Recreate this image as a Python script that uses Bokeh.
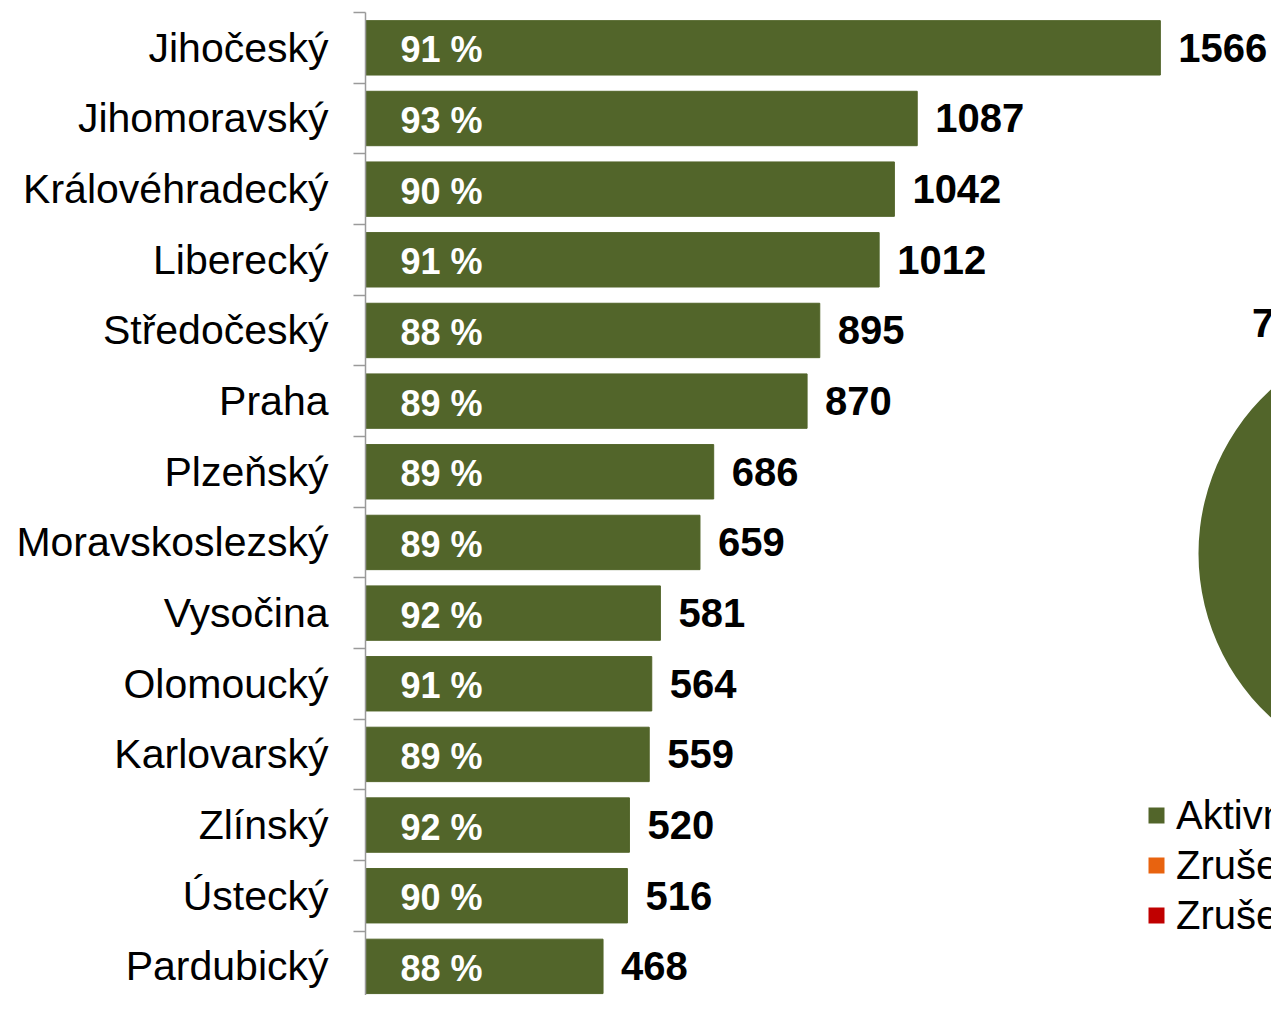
import math
from bokeh.plotting import figure
from bokeh.models import Range1d, FixedTicker, ColumnDataSource, Legend, LegendItem
from bokeh.core.properties import value
from bokeh.embed import file_html
from bokeh.resources import INLINE

# ---------------- data ----------------
regions = ["Jihočeský", "Jihomoravský", "Královéhradecký", "Liberecký", "Středočeský",
           "Praha", "Plzeňský", "Moravskoslezský", "Vysočina", "Olomoucký",
           "Karlovarský", "Zlínský", "Ústecký", "Pardubický"]
counts = [1566, 1087, 1042, 1012, 895, 870, 686, 659, 581, 564, 559, 520, 516, 468]
shares = [91, 93, 90, 91, 88, 89, 89, 89, 92, 91, 89, 92, 90, 88]

pie_labels = ["Aktivní", "Zrušené na žádost", "Zrušené z moci úřední"]
pie_values = [90, 7, 3]
pie_colors = ["#52652A", "#E8630F", "#C00000"]

# ---------------- layout ----------------
W, H = 1271, 995
LEFT, TOP = 365, 12
X_END = 1785
Y_TOP, Y_BOT = 13.5, -0.412
frame_w = W - LEFT
frame_h = H - TOP
px_x = frame_w / X_END
px_y = frame_h / (Y_TOP - Y_BOT)

GREEN = "#52652A"
AXIS = "#9A9A9A"
FONT = "Liberation Sans"

n = len(regions)
ys = [n - 1 - i for i in range(n)]

bar_src = ColumnDataSource(dict(
    y=ys, count=counts,
    count_txt=[str(c) for c in counts],
    share_txt=[f"{s} %" for s in shares],
))

p = figure(width=W, height=H, x_range=Range1d(0, X_END), y_range=Range1d(Y_BOT, Y_TOP),
           output_backend="svg", toolbar_location=None, x_axis_location=None,
           min_border_left=LEFT, min_border_right=0, min_border_top=TOP, min_border_bottom=0)
p.outline_line_color = None
p.xgrid.visible = False
p.ygrid.visible = False
p.background_fill_color = "white"
p.border_fill_color = "white"

p.hbar(y="y", right="count", left=0, height=0.77, color=GREEN, source=bar_src)

p.text(x=0, y="y", text="share_txt", source=bar_src, x_offset=35, y_offset=2,
       text_color="white", text_font=value(FONT), text_font_style="bold",
       text_font_size="36px", text_align="left", text_baseline="middle")
p.text(x="count", y="y", text="count_txt", source=bar_src, x_offset=18, y_offset=0,
       text_color="black", text_font=value(FONT), text_font_style="bold",
       text_font_size="40px", text_align="left", text_baseline="middle")

ax = p.yaxis[0]
ax.ticker = FixedTicker(ticks=ys, minor_ticks=[y + 0.5 for y in range(-1, n)])
ax.major_label_overrides = {y: r for y, r in zip(ys, regions)}
ax.major_tick_line_color = None
ax.major_tick_in = 0
ax.major_tick_out = 0
ax.minor_tick_in = 0
ax.minor_tick_out = 12
ax.minor_tick_line_color = AXIS
ax.minor_tick_line_width = 1.5
ax.axis_line_color = AXIS
ax.axis_line_width = 1.5
ax.major_label_standoff = 25
ax.major_label_text_font = FONT
ax.major_label_text_font_size = "41px"
ax.major_label_text_color = "black"

# ---------------- pie ----------------
R = 222
pie_cx = 1055 / px_x
pie_cy = Y_TOP - 541 / px_y
total = sum(pie_values)
order = [2, 1, 0]
starts, ends, cols, txt, xo, yo, al, tc = [], [], [], [], [], [], [], []
a = math.pi / 2
for i in order:
    b = a + pie_values[i] / total * 2 * math.pi
    starts.append(a)
    ends.append(b)
    cols.append(pie_colors[i])
    m = (a + b) / 2
    if i == 0:
        rr = 0.6 * R
        al.append("center")
        tc.append("white")
    else:
        rr = 1.13 * R
        al.append("right" if math.cos(m) < 0 else "left")
        tc.append("black")
    xo.append(rr * math.cos(m))
    yo.append(-rr * math.sin(m))
    txt.append(f"{pie_values[i]} %")
    a = b

pie_src = ColumnDataSource(dict(x=[pie_cx] * 3, y=[pie_cy] * 3, start=starts, end=ends,
                                color=cols, txt=txt, xo=xo, yo=yo, al=al, tc=tc))
wr = p.wedge(x="x", y="y", radius=R, radius_units="screen", start_angle="start",
             end_angle="end", direction="anticlock", fill_color="color",
             line_color=None, source=pie_src)
p.text(x="x", y="y", text="txt", x_offset="xo", y_offset="yo", text_align="al",
       text_color="tc", text_baseline="middle", text_font=value(FONT),
       text_font_style="bold", text_font_size="40px", source=pie_src)

items = [LegendItem(label=pie_labels[i], renderers=[wr], index=order.index(i)) for i in range(3)]
legend = Legend(items=items, location=(781, 55), orientation="vertical",
                glyph_width=20, glyph_height=20, label_standoff=10, label_height=50,
                spacing=0, padding=0, margin=0, border_line_color=None,
                background_fill_alpha=0, label_text_font=FONT,
                label_text_font_size="40px", label_text_color="black")
p.add_layout(legend)

open("out.html", "w").write(file_html(p, INLINE))
